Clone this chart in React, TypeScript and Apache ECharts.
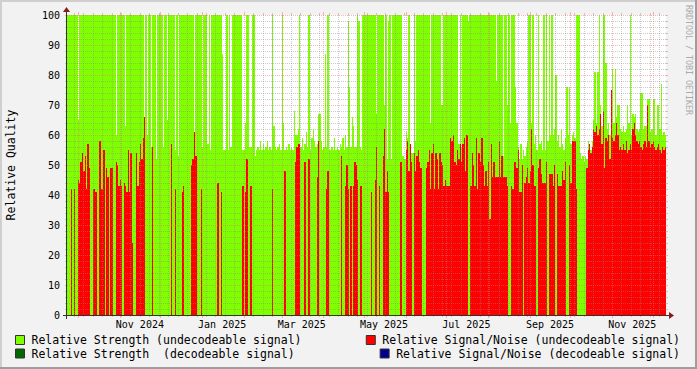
import React, { useEffect, useRef } from 'react';
import * as echarts from 'echarts';

const MONO = '"DejaVu Sans Mono", monospace';
const DAY = 86400000;
const START = Date.UTC(2024, 8, 23);
const NDAYS = 444;
const END = START + NDAYS * DAY;

const S1 = 'Relative Strength (undecodeable signal)';
const S2 = 'Relative Signal/Noise (undecodeable signal)';
const S3 = 'Relative Strength  (decodeable signal)';
const S4 = 'Relative Signal/Noise (decodeable signal)';

const n = null;

// Relative strength (undecodeable), one value per day from 2024-09-23
const strengthA = [
  100,100,100,100,100,100,100,100,65,100,
  100,100,100,100,100,100,100,100,100,100,
  100,100,100,100,100,100,100,100,100,100,
  100,100,100,100,100,100,60,100,100,100,
  100,100,100,63,100,100,100,100,100,100,
  100,100,100,100,100,100,100,66,100,60,
  100,100,56,100,100,100,52,100,100,100,
  100,56,100,100,65,100,100,100,100,100,
  55,100,53,100,100,100,100,100,100,100,
  100,100,100,100,61,100,100,100,100,100,
  56,100,100,100,57,100,55,100,100,100,
];
const strengthB = [
  100,100,100,100,100,87,55,55,100,55,
  100,56,100,100,100,100,100,100,100,100,
  55,55,64,100,100,56,56,100,100,53,
  55,56,55,58,55,57,55,56,58,55,
  56,55,100,63,56,55,56,57,55,100,
  64,55,56,55,57,55,56,55,68,60,
  60,62,100,56,59,55,57,61,56,100,
  55,59,62,58,56,57,67,67,58,55,
  56,87,56,100,55,55,56,55,59,55,
  56,55,57,56,59,55,60,56,98,76,
  56,66,63,56,56,100,98,56,55,100,
];
const strengthC = [
  100,100,100,100,100,100,100,100,100,67,
  100,100,100,100,100,70,100,52,98,100,
  52,100,100,100,100,100,100,100,53,53,
  52,61,59,100,56,54,54,100,58,100,
  100,100,100,100,100,100,100,100,100,64,
  100,100,100,100,100,100,100,70,70,100,
  100,100,100,100,100,100,100,100,100,100,
  57,100,56,100,100,100,100,98,100,100,
  100,100,100,100,100,100,100,100,100,100,
  100,100,100,100,100,100,100,100,78,100,
  100,100,100,53,100,100,70,100,64,100,
  100,100,76,
];
const strengthD = [
  64,56,52,57,52,55,53,56,58,100,
  100,64,100,57,60,55,100,57,58,55,
  100,55,100,58,100,60,100,60,62,80,
  58,60,56,62,57,55,59,76,60,76,
  57,60,61,59,100,100,100,54,52,53,
  51,53,52,58,57,55,58,65,81,64,
  81,100,70,63,100,100,84,62,64,60,
  74,82,64,82,66,70,70,62,61,63,
  61,62,70,64,100,60,67,66,67,62,
  61,62,74,74,62,63,63,72,72,61,
  62,72,72,60,70,70,62,77,60,61,
  60,
];

// Relative signal/noise (undecodeable), null = no value
const snrA = [
  n,n,n,42,n,42,n,n,45,44,
  51,54,48,53,42,57,49,n,n,42,
  42,41,n,n,58,42,42,55,n,49,
  46,n,49,49,n,n,51,50,43,45,
  43,n,44,43,41,55,41,54,24,n,
  n,54,43,51,57,52,59,66,n,n,
  n,n,n,56,n,n,n,n,n,n,
  n,n,n,n,n,n,n,57,n,n,
  42,n,n,n,n,41,43,n,n,n,
  n,n,50,52,61,53,n,n,n,42,
  n,n,n,n,n,n,n,n,n,n,
];
const snrB = [
  n,44,44,n,41,n,n,n,n,n,
  n,n,n,n,n,n,n,n,n,n,
  43,n,41,52,n,n,43,n,n,n,
  n,n,n,n,n,n,n,n,n,n,
  n,n,42,n,n,n,n,n,n,n,
  n,48,n,n,n,n,n,n,n,51,
  56,57,57,n,n,n,51,n,n,52,
  n,n,n,n,n,46,58,n,n,n,
  n,n,42,48,n,n,n,n,n,n,
  n,n,n,53,n,n,43,50,42,n,
  43,n,43,51,50,45,n,43,43,n,
];
const snrC = [
  n,n,n,n,n,41,n,n,45,56,
  n,43,n,n,53,62,41,48,41,n,
  n,n,n,n,n,n,n,51,n,n,
  n,55,58,48,57,51,n,54,48,53,
  55,51,49,n,n,n,49,51,55,42,
  54,57,42,54,52,42,54,51,50,43,
  45,43,43,43,59,58,60,51,50,55,
  52,57,51,57,59,48,60,n,n,43,
  54,50,43,59,42,54,51,59,50,43,
  48,43,51,32,57,46,51,46,46,46,
  58,46,53,46,46,46,43,n,n,43,
  42,51,51,
];
const snrD = [
  49,55,41,41,50,n,44,46,49,44,
  48,62,50,43,43,n,49,52,47,44,
  44,44,51,n,47,47,47,43,50,n,
  47,43,43,43,48,45,51,n,n,50,
  44,58,58,58,42,n,n,n,n,n,
  n,n,49,55,57,54,56,62,61,63,
  60,62,67,57,68,49,59,58,60,52,
  75,59,58,60,64,60,55,56,55,57,
  55,58,54,55,57,55,62,64,60,58,
  57,58,56,55,57,58,56,70,58,56,
  57,58,56,55,56,57,55,54,56,55,
  56,
];

const strengthDecodeable: (number | null)[] = [];
const snrDecodeable: (number | null)[] = [];

const yTicks = [0, 10, 20, 30, 40, 50, 60, 70, 80, 90, 100];
const labelMonths: [number, number][] = [[2024, 10], [2025, 0], [2025, 2], [2025, 4], [2025, 6], [2025, 8], [2025, 10]];
const gridMonths: [number, number][] = [
  [2024, 9], [2024, 10], [2024, 11], [2025, 0], [2025, 1], [2025, 2], [2025, 3], [2025, 4],
  [2025, 5], [2025, 6], [2025, 7], [2025, 8], [2025, 9], [2025, 10], [2025, 11],
];
const MONTH_NAMES = ['Jan', 'Feb', 'Mar', 'Apr', 'May', 'Jun', 'Jul', 'Aug', 'Sep', 'Oct', 'Nov', 'Dec'];

const strength = [...strengthA, ...strengthB, ...strengthC, ...strengthD];
const snr = [...snrA, ...snrB, ...snrC, ...snrD];

const toPoints = (arr: (number | null)[]) =>
  arr.map((v, i) => (v == null ? null : [START + i * DAY, v])).filter((p) => p !== null) as number[][];

const columnRenderer = (color: string) => (_params: any, api: any) => {
  const t = api.value(0);
  const v = api.value(1);
  const p0 = api.coord([t, 0]);
  const p1 = api.coord([t + DAY, v]);
  const x0 = Math.round(p0[0]);
  const x1 = Math.round(p1[0]);
  const y1 = Math.round(p1[1]);
  const y0 = Math.round(p0[1]);
  return {
    type: 'rect',
    shape: { x: x0, y: y1, width: Math.max(1, x1 - x0), height: y0 - y1 },
    style: { fill: color },
  };
};

const MINOR = 'rgba(140,140,140,0.45)';
const MAJOR = 'rgba(245,110,110,0.5)';
const AXIS = '#333333';
const ARROW = '#801f1f';

const gridRenderer = (_params: any, api: any) => {
  const ch: any[] = [];
  const a = api.coord([START, 0]);
  const b = api.coord([END, 100]);
  const X0 = Math.round(a[0]);
  const Y0 = Math.round(a[1]);
  const X1 = Math.round(b[0]);
  const Y1 = Math.round(b[1]);
  const ln = (x1: number, y1: number, x2: number, y2: number, stroke: string, dash?: number[]) =>
    ch.push({ type: 'line', shape: { x1, y1, x2, y2 }, style: { stroke, lineWidth: 1, lineDash: dash || null } });

  // horizontal grid: minor every 2, major every 10
  for (let v = 2; v <= 100; v += 2) {
    const y = Math.round(api.coord([START, v])[1]) + 0.5;
    const col = v % 10 === 0 ? MAJOR : MINOR;
    ln(X0 - 2, y, X0, y, col);
    ln(X1, y, X1 + 2, y, col);
    ln(X0, y, X1, y, col, [1, 1]);
  }
  // vertical grid: weekly minor, monthly major
  const monthTimes = gridMonths.map(([yy, mm]) => Date.UTC(yy, mm, 1));
  const weekTimes: number[] = [];
  for (let d = 5; d < NDAYS; d += 7) weekTimes.push(START + d * DAY);
  weekTimes.forEach((t) => {
    if (monthTimes.indexOf(t) >= 0) return;
    const x = Math.round(api.coord([t, 0])[0]) + 0.5;
    ln(x, Y0, x, Y0 + 2, MINOR);
    ln(x, Y1 - 2, x, Y1, MINOR);
    ln(x, Y1, x, Y0, MINOR, [1, 1]);
  });
  monthTimes.forEach((t) => {
    if (t <= START || t >= END) return;
    const x = Math.round(api.coord([t, 0])[0]) + 0.5;
    ln(x, Y0, x, Y0 + 3, MAJOR);
    ln(x, Y1 - 3, x, Y1, MAJOR);
    ln(x, Y1, x, Y0, MAJOR, [1, 1]);
  });
  // axes and arrows
  ln(X0 - 4, Y0 + 0.5, X1 + 4, Y0 + 0.5, AXIS);
  ln(X0 - 0.5, Y0 + 4, X0 - 0.5, Y1 - 4, AXIS);
  ch.push({
    type: 'polygon',
    shape: { points: [[X1 + 3, Y0 - 3], [X1 + 3, Y0 + 4], [X1 + 8, Y0 + 0.5]] },
    style: { fill: ARROW },
  });
  ch.push({
    type: 'polygon',
    shape: { points: [[X0 - 4, Y1 - 3], [X0 + 3, Y1 - 3], [X0 - 0.5, Y1 - 8]] },
    style: { fill: ARROW },
  });
  return { type: 'group', children: ch };
};

export default function App() {
  const ref = useRef<HTMLDivElement>(null);
  useEffect(() => {
    document.body.style.margin = '0';
    if (!ref.current) return;
    const chart = echarts.init(ref.current, null, { renderer: 'svg' });
    const legendBase = {
      orient: 'horizontal',
      padding: 0,
      itemWidth: 9,
      itemHeight: 9,
      itemGap: 0,
      selectedMode: false,
      icon: 'rect',
      textStyle: { fontFamily: MONO, fontSize: 11.5, color: '#000', padding: [0, 0, 0, 2] },
      itemStyle: { borderColor: '#333', borderWidth: 1 },
    };
    chart.setOption({
      animation: false,
      backgroundColor: '#f2f2f2',
      grid: {
        left: 67,
        right: 31,
        top: 15,
        bottom: 54,
        show: true,
        backgroundColor: '#ffffff',
        borderWidth: 0,
        containLabel: false,
      },
      xAxis: {
        type: 'value',
        min: START,
        max: END,
        axisLine: { show: false },
        axisTick: { show: false },
        splitLine: { show: false },
        axisLabel: {
          customValues: labelMonths.map(([yy, mm]) => Date.UTC(yy, mm, 16)),
          formatter: (v: number) => {
            const d = new Date(v);
            return MONTH_NAMES[d.getUTCMonth()] + ' ' + d.getUTCFullYear();
          },
          fontFamily: MONO,
          fontSize: 10,
          color: '#000',
          margin: 4,
          hideOverlap: false,
        },
      },
      yAxis: {
        type: 'value',
        min: 0,
        max: 100,
        interval: 10,
        axisLine: { show: false },
        axisTick: { show: false },
        splitLine: { show: false },
        axisLabel: {
          customValues: yTicks,
          fontFamily: MONO,
          fontSize: 10,
          color: '#000',
          margin: 7,
        },
      },
      legend: [
        { ...legendBase, data: [S1], left: 15, top: 334 },
        { ...legendBase, data: [S2], right: 17, top: 334 },
        { ...legendBase, data: [S3], left: 15, top: 347.5 },
        { ...legendBase, data: [S4], right: 17, top: 347.5 },
      ],
      graphic: [
        { type: 'rect', shape: { x: 0, y: 0, width: 697, height: 2 }, style: { fill: '#cfcfcf' }, silent: true },
        { type: 'rect', shape: { x: 0, y: 0, width: 2, height: 369 }, style: { fill: '#cfcfcf' }, silent: true },
        { type: 'rect', shape: { x: 0, y: 367, width: 697, height: 2 }, style: { fill: '#9e9e9e' }, silent: true },
        { type: 'rect', shape: { x: 695, y: 0, width: 2, height: 369 }, style: { fill: '#9e9e9e' }, silent: true },
        {
          type: 'text',
          x: 11,
          y: 165,
          rotation: Math.PI / 2,
          style: {
            text: 'Relative Quality',
            fontFamily: MONO,
            fontSize: 11.5,
            fill: '#000',
            align: 'center',
            verticalAlign: 'middle',
          },
          silent: true,
        },
        {
          type: 'text',
          x: 689,
          y: 5,
          rotation: -Math.PI / 2,
          style: {
            text: 'RRDTOOL / TOBI OETIKER',
            fontFamily: MONO,
            fontSize: 8.3,
            fill: '#aaaaaa',
            align: 'left',
            verticalAlign: 'middle',
          },
          silent: true,
        },
      ],
      series: [
        {
          name: S1,
          type: 'custom',
          renderItem: columnRenderer('#80ff00'),
          data: toPoints(strength),
          itemStyle: { color: '#80ff00' },
          encode: { x: 0, y: 1 },
          silent: true,
          z: 2,
        },
        {
          name: S2,
          type: 'custom',
          renderItem: columnRenderer('#ff0000'),
          data: toPoints(snr),
          itemStyle: { color: '#ff0000' },
          encode: { x: 0, y: 1 },
          silent: true,
          z: 3,
        },
        {
          name: S3,
          type: 'custom',
          renderItem: columnRenderer('#006a00'),
          data: toPoints(strengthDecodeable),
          itemStyle: { color: '#006a00' },
          encode: { x: 0, y: 1 },
          silent: true,
          z: 4,
        },
        {
          name: S4,
          type: 'custom',
          renderItem: columnRenderer('#000090'),
          data: toPoints(snrDecodeable),
          itemStyle: { color: '#000090' },
          encode: { x: 0, y: 1 },
          silent: true,
          z: 5,
        },
        {
          name: 'grid',
          type: 'custom',
          renderItem: gridRenderer,
          data: [[START, 0]],
          encode: { x: 0, y: 1 },
          silent: true,
          clip: false,
          z: 10,
        },
      ],
    });
    return () => chart.dispose();
  }, []);
  return <div ref={ref} style={{ width: 697, height: 369 }} />;
}
